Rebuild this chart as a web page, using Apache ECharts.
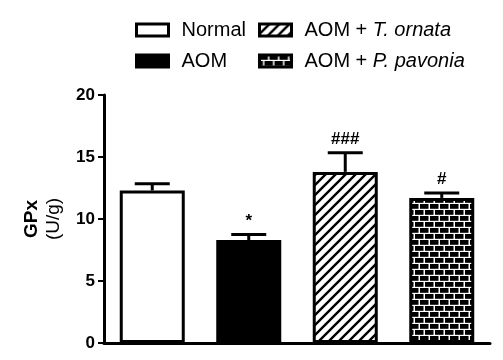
<!DOCTYPE html>
<html>
<head>
<meta charset="utf-8">
<script src="https://cdn.jsdelivr.net/npm/echarts@6/dist/echarts.min.js"></script>
<style>
html,body{margin:0;padding:0;background:#fff;}
#c{width:503px;height:360px;}
</style>
</head>
<body>
<div id="c"></div>
<script>
var categories = ['Normal', 'AOM', 'AOM + T. ornata', 'AOM + P. pavonia'];
var means = [12.3, 8.3, 13.8, 11.7];
var errors = [0.55, 0.45, 1.55, 0.4];
var annotations = ['', '*', '###', '#'];
var yTicks = [0, 5, 10, 15, 20];

function hatchPattern() {
  var c = document.createElement('canvas');
  c.width = 10; c.height = 10;
  var g = c.getContext('2d');
  g.fillStyle = '#fff'; g.fillRect(0, 0, 10, 10);
  g.strokeStyle = '#000'; g.lineWidth = 2.4;
  g.beginPath();
  g.moveTo(-1, 11); g.lineTo(11, -1);
  g.moveTo(-6, 6); g.lineTo(6, -6);
  g.moveTo(4, 16); g.lineTo(16, 4);
  g.stroke();
  return c;
}
function brickPattern() {
  var c = document.createElement('canvas');
  c.width = 10; c.height = 12;
  var g = c.getContext('2d');
  g.fillStyle = '#fff'; g.fillRect(0, 0, 10, 12);
  g.fillStyle = '#000';
  g.fillRect(0, 0, 8.5, 4.8);
  g.fillRect(5, 6, 8.5, 4.8);
  g.fillRect(-5, 6, 8.5, 4.8);
  return c;
}

var fills = [
  '#ffffff',
  '#000000',
  { image: hatchPattern(), repeat: 'repeat' },
  { image: brickPattern(), repeat: 'repeat' }
];

var series = categories.map(function (name, i) {
  var d = categories.map(function (_, j) { return j === i ? means[j] : '-'; });
  return {
    name: name,
    type: 'bar',
    barWidth: 65,
    barGap: '-100%',
    data: d,
    itemStyle: { color: fills[i], borderColor: '#000', borderWidth: 3 },
    z: 2
  };
});

series.push({
  type: 'custom',
  name: 'err',
  z: 1,
  data: categories.map(function (_, i) { return [i, means[i], means[i] + errors[i], annotations[i]]; }),
  renderItem: function (params, api) {
    var x = api.value(0);
    var p0 = api.coord([x, api.value(1)]);
    var p1 = api.coord([x, api.value(2)]);
    var half = 17.5;
    return {
      type: 'group',
      children: [
        { type: 'line', shape: { x1: p0[0], y1: p0[1], x2: p1[0], y2: p1[1] }, style: { stroke: '#000', lineWidth: 3 } },
        { type: 'line', shape: { x1: p1[0] - half, y1: p1[1], x2: p1[0] + half, y2: p1[1] }, style: { stroke: '#000', lineWidth: 3 } },
        { type: 'text', x: p1[0], y: p1[1] - 5, style: { text: api.value(3) || '', textAlign: 'center', textVerticalAlign: 'bottom', fontSize: 17, fontWeight: 'bold', fontFamily: 'Liberation Sans, Arial', fill: '#000' } }
      ]
    };
  }
});

var richStyle = { i: { fontStyle: 'italic', fontSize: 20, fontFamily: 'Liberation Sans, Arial', color: '#000' } };
function fmt(name) {
  if (name === 'AOM + T. ornata') return 'AOM + {i|T. ornata}';
  if (name === 'AOM + P. pavonia') return 'AOM + {i|P. pavonia}';
  return name;
}
var legendBase = {
  orient: 'vertical',
  top: 20,
  padding: 0,
  itemWidth: 32,
  itemHeight: 12,
  itemGap: 11,
  selectedMode: false,
  icon: 'rect',
  formatter: fmt,
  textStyle: { fontSize: 20, fontFamily: 'Liberation Sans, Arial', color: '#000', padding: [0, 0, 0, 8], rich: richStyle },
  itemStyle: { borderWidth: 3, borderColor: '#000' }
};

var chart = echarts.init(document.getElementById('c'));
chart.setOption({
  animation: false,
  backgroundColor: '#fff',
  legend: [
    Object.assign({}, legendBase, { left: 135, data: [categories[0], categories[1]] }),
    Object.assign({}, legendBase, { left: 258, data: [categories[2], categories[3]] })
  ],
  grid: { left: 104, right: 13, top: 95, bottom: 17, containLabel: false },
  xAxis: {
    type: 'category',
    data: categories,
    axisLine: { lineStyle: { color: '#000', width: 3 } },
    axisTick: { show: false },
    axisLabel: { show: false }
  },
  yAxis: {
    type: 'value',
    min: yTicks[0],
    max: yTicks[yTicks.length - 1],
    interval: 5,
    name: '{a|GPx}\n{b|(U/g)}',
    nameLocation: 'middle',
    nameRotate: 90,
    nameGap: 39,
    nameTextStyle: {
      color: '#000',
      rich: {
        a: { fontSize: 19, fontWeight: 'bold', fontFamily: 'Liberation Sans, Arial', color: '#000', lineHeight: 22 },
        b: { fontSize: 19, fontWeight: 'normal', fontFamily: 'Liberation Sans, Arial', color: '#000', lineHeight: 22 }
      }
    },
    splitLine: { show: false },
    axisLine: { show: true, lineStyle: { color: '#000', width: 3 } },
    axisTick: { show: true, length: 6, lineStyle: { color: '#000', width: 2 } },
    axisLabel: { fontSize: 17, fontWeight: 'bold', fontFamily: 'Liberation Sans, Arial', color: '#000', margin: 9 }
  },
  series: series
});
</script>
</body>
</html>
